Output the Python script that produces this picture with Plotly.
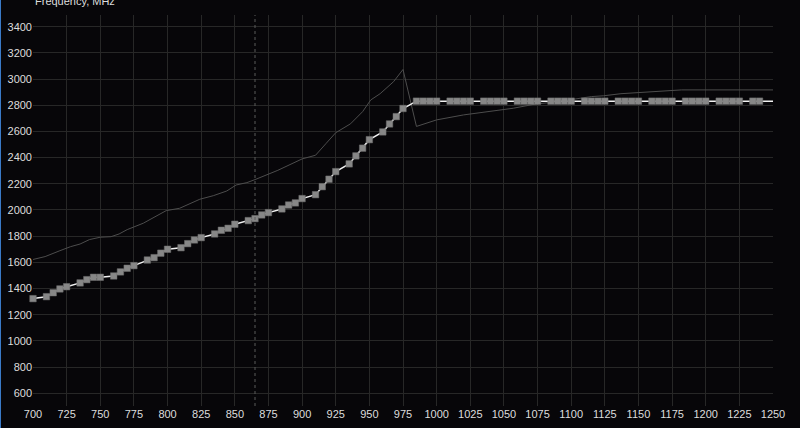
import plotly.graph_objects as go

# Curve points (voltage-like x axis, frequency MHz on y)
curve_x = [700, 710, 715, 720, 725, 735, 740, 745, 750, 760, 765, 770, 775,
           785, 790, 795, 800, 810, 815, 820, 825, 835, 840, 845, 850,
           860, 865, 870, 875, 885, 890, 895, 900, 910, 915, 920, 925,
           935, 940, 945, 950, 960, 965, 970, 975,
           985, 990, 995, 1000, 1010, 1015, 1020, 1025, 1035, 1040, 1045, 1050,
           1060, 1065, 1070, 1075, 1085, 1090, 1095, 1100, 1110, 1115, 1120, 1125,
           1135, 1140, 1145, 1150, 1160, 1165, 1170, 1175, 1185, 1190, 1195, 1200,
           1210, 1215, 1220, 1225, 1235, 1240, 1250]
curve_y = [1323, 1338, 1368, 1397, 1414, 1443, 1468, 1486, 1486, 1496, 1527, 1555, 1575,
           1618, 1636, 1670, 1700, 1712, 1743, 1771, 1789, 1817, 1845, 1860, 1891,
           1919, 1934, 1962, 1980, 2008, 2038, 2054, 2087, 2117, 2178, 2235, 2293,
           2352, 2413, 2472, 2537, 2596, 2657, 2713, 2775,
           2831, 2831, 2831, 2831, 2831, 2831, 2831, 2831, 2831, 2831, 2831, 2831,
           2831, 2831, 2831, 2831, 2831, 2831, 2831, 2831, 2831, 2831, 2831, 2831,
           2831, 2831, 2831, 2831, 2831, 2831, 2831, 2831, 2831, 2831, 2831, 2831,
           2831, 2831, 2831, 2831, 2831, 2831, 2831]
# number of points that carry a marker (the last point is a plain line end)
marker_count = len(curve_x) - 1

# Reference (default) curve, thin gray line
ref_x = [700, 709, 720, 728, 735, 742, 750, 758, 764, 770, 782, 789, 799, 809, 819, 824,
         834, 844, 851, 859, 865, 882, 900, 910, 918, 925, 936, 945, 951, 958, 968, 975,
         985, 1000, 1020, 1037, 1057, 1074, 1087, 1115, 1124, 1137, 1157, 1182, 1250]
ref_y = [1622, 1644, 1689, 1720, 1740, 1774, 1792, 1796, 1817, 1850, 1899, 1937, 1995, 2013, 2056, 2082,
         2109, 2145, 2191, 2209, 2232, 2303, 2390, 2418, 2510, 2590, 2658, 2751, 2840, 2888, 2980, 3073,
         2638, 2688, 2726, 2751, 2777, 2810, 2823, 2866, 2872, 2888, 2902, 2917, 2917]

x_ticks = list(range(700, 1251, 25))
y_ticks = list(range(600, 3401, 200))
marker_line_x = 865
axis_title = "Frequency, MHz"

bg = "#070609"
grid = "#272727"
txt = "#dddddd"

fig = go.Figure()
fig.add_trace(go.Scatter(x=ref_x, y=ref_y, mode="lines",
                         line=dict(color="#4d4d4d", width=1), hoverinfo="skip"))
fig.add_trace(go.Scatter(x=curve_x, y=curve_y, mode="lines",
                         line=dict(color="#f2f2f2", width=1.5), hoverinfo="skip"))
fig.add_trace(go.Scatter(x=curve_x[:marker_count], y=curve_y[:marker_count], mode="markers",
                         marker=dict(symbol="square", size=6.5, color="#878787",
                                     line=dict(color="#6e6e6e", width=0.5)),
                         cliponaxis=False, hoverinfo="skip"))

fig.add_shape(type="line", x0=marker_line_x, x1=marker_line_x, y0=0, y1=1,
              xref="x", yref="paper", line=dict(color="#5a5a5a", width=1, dash="dot"))
fig.add_shape(type="line", x0=-0.0443, x1=-0.0443, y0=-0.06, y1=1.04,
              xref="paper", yref="paper", line=dict(color="#3d7fd0", width=1.5))

fig.add_annotation(text=axis_title, xref="paper", yref="paper", x=0.0, y=1.036,
                   xanchor="left", yanchor="middle", showarrow=False,
                   font=dict(color=txt, size=11, family="Liberation Sans, Arial"))

fig.update_layout(
    width=800, height=428,
    margin=dict(l=33, r=27, t=15, b=22, autoexpand=False),
    paper_bgcolor=bg, plot_bgcolor=bg,
    showlegend=False,
    font=dict(family="Liberation Sans, Arial", size=11, color=txt),
)
fig.update_xaxes(range=[700, 1250], tickvals=x_ticks, showgrid=True, gridcolor=grid,
                 gridwidth=1, zeroline=False, showline=False, ticks="", automargin=False,
                 tickfont=dict(size=11, color=txt), fixedrange=True)
fig.update_yaxes(range=[503, 3489], tickvals=y_ticks, showgrid=True, gridcolor=grid,
                 gridwidth=1, zeroline=False, showline=False, ticks="", automargin=False,
                 tickfont=dict(size=11, color=txt), fixedrange=True)

fig.write_html("out.html", config={"displayModeBar": False},
               post_script="document.body.style.margin='0';document.body.style.background='%s';" % bg)
